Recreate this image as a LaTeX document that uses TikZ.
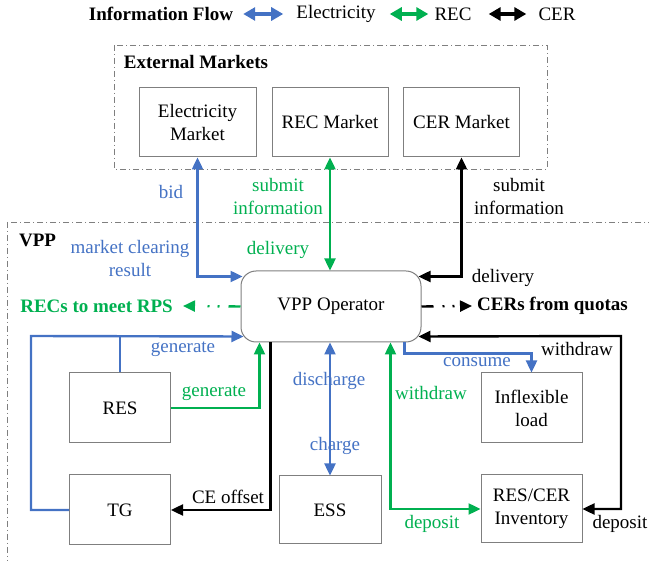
\documentclass[tikz,border=0pt]{standalone}
\usepackage{fontspec}
\setmainfont{Liberation Serif}
\usetikzlibrary{arrows.meta}

\definecolor{elecblue}{HTML}{4472C4}
\definecolor{recgreen}{HTML}{00B050}
\definecolor{boxgray}{HTML}{7F7F7F}

\tikzset{
    box/.style={draw=boxgray, line width=1pt, minimum width=101pt, minimum height=70pt, align=center, inner sep=2pt},
    grpbox/.style={draw=boxgray, line width=0.8pt, dash pattern=on 6pt off 3pt on 1pt off 3pt},
    tip/.style={-{Triangle[length=12pt,width=11pt]}},
    dtip/.style={{Triangle[length=12pt,width=11pt]}-{Triangle[length=12pt,width=11pt]}},
    elecline/.style={elecblue, line width=2.4pt},
    recline/.style={recgreen, line width=2.4pt},
    cerline/.style={black, line width=2.4pt},
    dotline/.style={dash pattern=on 12pt off 9pt on 2pt off 8pt on 2pt off 30pt},
    lbl/.style={align=center, inner sep=0pt}
}

\begin{document}
\begin{tikzpicture}[x=1pt, y=-1pt, font=\fontsize{19}{23}\selectfont]
    \useasboundingbox (0,0) rectangle (649,561);

    % legend
    \node[lbl, font=\fontsize{19}{23}\selectfont\bfseries] (flow) at (161,14) {Information Flow};
    \node[lbl] (legelec) at (336,14) {Electricity};
    \node[lbl] (legrec) at (453,14) {REC};
    \node[lbl] (legcer) at (557,14) {CER};
    \draw[elecblue, line width=3.5pt, {Triangle[length=12pt,width=13pt]}-{Triangle[length=12pt,width=13pt]}] ([xshift=10pt]flow.east) -- ([xshift=-13pt]legelec.west);
    \draw[recgreen, line width=3.5pt, {Triangle[length=12pt,width=13pt]}-{Triangle[length=12pt,width=13pt]}] ([xshift=14pt]legelec.east) -- ([xshift=-6pt]legrec.west);
    \draw[black, line width=3.5pt, {Triangle[length=12pt,width=13pt]}-{Triangle[length=12pt,width=13pt]}] ([xshift=17pt]legrec.east) -- ([xshift=-12pt]legcer.west);

    % groups
    \draw[grpbox] (114,45) rectangle (547,169);
    \node[lbl, font=\fontsize{19}{23}\selectfont\bfseries] (extlbl) at (196,62) {External Markets};
    \begin{scope}
        \clip (0,0) rectangle (649,561);
        \draw[grpbox] (7,222) rectangle (660,575);
    \end{scope}
    \node[lbl, font=\fontsize{19}{23}\selectfont\bfseries] (vpplbl) at (37.5,240) {VPP};

    % markets
    \node[box, minimum width=117pt, minimum height=69pt] (emkt) at (197.5,122.5) {Electricity\\Market};
    \node[box, minimum width=116pt, minimum height=69pt] (rmkt) at (330,122.5) {REC Market};
    \node[box, minimum width=116pt, minimum height=69pt] (cmkt) at (461.5,122.5) {CER Market};

    % VPP units
    \node[box, minimum width=180pt, minimum height=71pt, rounded corners=15pt] (op) at (331,306.5) {VPP Operator};
    \node[box] (res) at (120,408) {RES};
    \node[box] (tg) at (120,510) {TG};
    \node[box, minimum width=102pt, minimum height=68pt] (ess) at (330,510) {ESS};
    \node[box] (load) at (531.5,408) {Inflexible\\load};
    \node[box, minimum height=68pt] (inv) at (531.5,509) {RES/CER\\Inventory};

    \node[lbl, text=recgreen, font=\fontsize{19}{23}\selectfont\bfseries, anchor=east] (rps) at (173,306) {RECs to meet RPS};
    \node[lbl, font=\fontsize{19}{23}\selectfont\bfseries, anchor=west] (cers) at (477,306) {CERs from quotas};

    \coordinate (gen) at (31,336);
    \coordinate (wd) at (621,336);

    % market links
    \draw[elecline, dtip] (emkt.south) |- ([shift={(2pt,-6pt)}]op.north west);
    \draw[recline, dtip] (rmkt.south) -- (rmkt.south |- op.north);
    \draw[cerline, dtip] (cmkt.south) |- ([shift={(-3pt,-6pt)}]op.north east);

    \draw[recline, dotline, tip] (op.west) -- ([xshift=10pt]rps.east);
    \draw[cerline, dotline, tip] (op.east) -- ([xshift=-5pt]cers.west);

    % internal links
    \draw[elecline, tip] (tg.west) -| (gen) -- ([shift={(3pt,6pt)}]op.south west);
    \draw[elecline] (res.north) -- (res.north |- gen);
    \draw[recline, tip] (res.east) -| ([xshift=19pt]op.south west);
    \draw[cerline, tip] ([xshift=30pt]op.south west) |- (tg.east);
    \draw[elecline, dtip] (ess.north |- op.south) -- (ess.north);
    \draw[elecline, tip] ([xshift=-17pt]op.south east) |- ++(0,11) -| (load.north);
    \draw[recline, dtip] ([xshift=-31pt]op.south east) |- (inv.west);
    \draw[cerline, dtip] ([shift={(-3pt,6pt)}]op.south east) -- (wd) |- (inv.east);

    % labels
    \node[lbl, text=elecblue] (bidlbl) at (171,192) {bid};
    \node[lbl, text=elecblue] (clearlbl) at (130,259) {market clearing\\result};
    \node[lbl, text=recgreen] (subrec) at (278,197) {submit\\information};
    \node[lbl, text=recgreen] (delrec) at (278,250) {delivery};
    \node[lbl] (subcer) at (519,197) {submit\\information};
    \node[lbl] (delcer) at (503,278) {delivery};
    \node[lbl, text=elecblue] (genelec) at (183,349) {generate};
    \node[lbl, text=recgreen] (genrec) at (214,393) {generate};
    \node[lbl] (offset) at (228,497) {CE offset};
    \node[lbl, text=elecblue] (dischlbl) at (329,381) {discharge};
    \node[lbl, text=elecblue] (chlbl) at (335,446) {charge};
    \node[lbl, text=elecblue] (conslbl) at (477,362) {consume};
    \node[lbl, text=recgreen] (wdrec) at (431,393) {withdraw};
    \node[lbl, text=recgreen] (deprec) at (432,524) {deposit};
    \node[lbl] (wdcer) at (577,349) {withdraw};
    \node[lbl] (depcer) at (620,524) {deposit};
\end{tikzpicture}
\end{document}
